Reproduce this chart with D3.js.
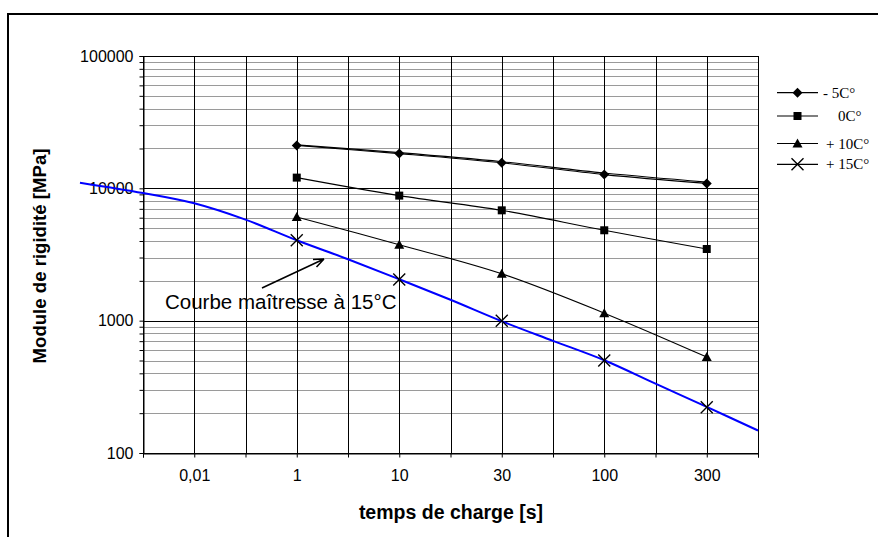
<!DOCTYPE html>
<html>
<head>
<meta charset="utf-8">
<script src="https://cdn.jsdelivr.net/npm/d3@7/dist/d3.min.js"></script>
<style>
  body { margin: 0; background: #fff; }
  svg { display: block; }
  text { font-family: Arial, "Liberation Sans", sans-serif; fill: #000; }
</style>
</head>
<body>
<svg id="chart" width="878" height="537"></svg>
<script>
// Loading-time categories (s) and stiffness modulus values (MPa)
const categories = ["0,01", "1", "10", "30", "100", "300"];
const yTickValues = [100, 1000, 10000, 100000];
const seriesCats = ["1", "10", "30", "100", "300"];
const minus5 = [21100, 18300, 15600, 12700, 10900];
const minus5Fit = [21300, 18600, 15900, 13050, 11150];
const zero = [12050, 8810, 6820, 4820, 3480];
const plus10 = [6070, 3750, 2260, 1140, 531];
const plus15 = [4050, 2050, 1000, 501, 222];
// Master curve at 15°C, positions given in category units
const masterPos = [-1.115, -0.5, 0, 0.5, 1, 1.5, 2, 2.5, 3, 3.5, 4, 4.5, 5, 5.5];
const masterVal = [11040, 9220, 7710, 5800, 4050, 2910, 2054, 1438, 990, 704, 502, 334, 223, 148];
const legendLabels = ["- 5C°", "0C°", "+ 10C°", "+ 15C°"];
const legendMarkers = ["diamond", "square", "triangle", "cross"];

const svg = d3.select("#chart");
const plot = { left: 143, right: 758, top: 56, bottom: 453 };

const x = d3.scaleLinear().domain([-0.5, categories.length - 0.5]).range([plot.left, plot.right]);
const y = d3.scaleLog().domain([100, 100000]).range([plot.bottom, plot.top]);
const catX = c => x(categories.indexOf(c));

// outer frame
svg.append("path")
  .attr("d", `M8,537 L8,14 L878,14`)
  .attr("fill", "none").attr("stroke", "#000").attr("stroke-width", 2);

// horizontal grid: decades black, intermediate values grey
const hVals = [];
[100, 1000, 10000].forEach(d => { for (let m = 1; m <= 9; m++) hVals.push(m * d); });
const isDecade = v => yTickValues.includes(v);
const grid = svg.append("g");
grid.selectAll("line.h").data(hVals.filter(v => v > 100)).join("line")
  .attr("x1", plot.left).attr("x2", plot.right)
  .attr("y1", v => Math.round(y(v)) + 0.5).attr("y2", v => Math.round(y(v)) + 0.5)
  .attr("stroke", v => isDecade(v) ? "#000" : "#9a9a9a")
  .attr("stroke-width", 1);

// vertical grid every half category
const vPos = d3.range(0, categories.length * 2 - 1).map(i => -0.5 + 0.5 * (i + 1));
grid.selectAll("line.v").data(vPos).join("line")
  .attr("y1", plot.top).attr("y2", plot.bottom)
  .attr("x1", p => Math.round(x(p)) + 0.5).attr("x2", p => Math.round(x(p)) + 0.5)
  .attr("stroke", "#000").attr("stroke-width", 1);

// plot border
svg.append("rect")
  .attr("x", plot.left + 0.5).attr("y", plot.top + 0.5)
  .attr("width", plot.right - plot.left).attr("height", plot.bottom - plot.top)
  .attr("fill", "none").attr("stroke", "#000").attr("stroke-width", 1);

// y axis (log) with ticks at every grid value
const yAxis = d3.axisLeft(y).tickValues(hVals.concat([100000])).tickSize(4)
  .tickFormat(v => isDecade(v) ? String(v) : "");
svg.append("g").attr("transform", `translate(${plot.left + 0.5},0)`).call(yAxis)
  .call(g => g.select(".domain").attr("stroke", "#000"))
  .call(g => g.selectAll("text").attr("font-size", 16).attr("font-family", "Arial, 'Liberation Sans', sans-serif").attr("dx", -3));

// x axis: ticks every half category, labels on categories
const xTicks = [-0.5].concat(vPos, [categories.length - 0.5]);
const xAxis = d3.axisBottom(x).tickValues(xTicks).tickSize(4)
  .tickFormat(p => Number.isInteger(p) ? categories[p] : "");
svg.append("g").attr("transform", `translate(0,${plot.bottom + 0.5})`).call(xAxis)
  .call(g => g.select(".domain").attr("stroke", "#000"))
  .call(g => g.selectAll("text").attr("font-size", 16).attr("font-family", "Arial, 'Liberation Sans', sans-serif").attr("dy", "1.25em"));

// axis titles
svg.append("text").attr("x", 451).attr("y", 519).attr("text-anchor", "middle")
  .attr("font-size", 19.5).attr("font-weight", "bold").text("temps de charge [s]");
svg.append("text").attr("transform", "translate(46,256) rotate(-90)").attr("text-anchor", "middle")
  .attr("font-size", 18.6).attr("font-weight", "bold").text("Module de rigidité [MPa]");

// curves
const smooth = d3.line().curve(d3.curveCatmullRom.alpha(0.5));
const seriesPts = vals => vals.map((v, i) => [catX(seriesCats[i]), y(v)]);

svg.append("path").attr("d", smooth(masterPos.map((p, i) => [x(p), y(masterVal[i])])))
  .attr("fill", "none").attr("stroke", "#0000ff").attr("stroke-width", 2);

[minus5, minus5Fit, zero, plus10].forEach(vals => {
  svg.append("path").attr("d", smooth(seriesPts(vals)))
    .attr("fill", "none").attr("stroke", "#000").attr("stroke-width", 1.1);
});

// markers
function marker(g, type, cx, cy) {
  if (type === "diamond") {
    g.append("path").attr("d", `M${cx},${cy - 5}L${cx + 5},${cy}L${cx},${cy + 5}L${cx - 5},${cy}Z`).attr("fill", "#000");
  } else if (type === "square") {
    g.append("rect").attr("x", cx - 4).attr("y", cy - 4).attr("width", 8).attr("height", 8).attr("fill", "#000");
  } else if (type === "triangle") {
    g.append("path").attr("d", `M${cx},${cy - 5}L${cx + 5},${cy + 4}L${cx - 5},${cy + 4}Z`).attr("fill", "#000");
  } else {
    g.append("path").attr("d", `M${cx - 6},${cy - 6}L${cx + 6},${cy + 6}M${cx + 6},${cy - 6}L${cx - 6},${cy + 6}`)
      .attr("stroke", "#000").attr("stroke-width", 1.4).attr("fill", "none");
  }
}
const mk = svg.append("g");
[minus5, zero, plus10, plus15].forEach((vals, k) => {
  seriesPts(vals).forEach(([px, py]) => marker(mk, legendMarkers[k], px, py));
});

// annotation
svg.append("text").attr("x", 165).attr("y", 309).attr("font-size", 20.5).text("Courbe maîtresse à 15°C");
svg.append("path").attr("d", "M262,288 L324,259 M324,259 L313,259.5 M324,259 L316.5,267")
  .attr("fill", "none").attr("stroke", "#000").attr("stroke-width", 1.6);

// legend
const legRows = [92.7, 116, 143.5, 164.3];
const legTextX = [823, 838, 826, 826];
const lg = svg.append("g");
legendLabels.forEach((lab, k) => {
  const ly = legRows[k];
  lg.append("line").attr("x1", 777).attr("x2", 818).attr("y1", ly).attr("y2", ly).attr("stroke", "#000").attr("stroke-width", 1.2);
  marker(lg, legendMarkers[k], 797.5, ly);
  lg.append("text").attr("x", legTextX[k]).attr("y", ly + 5)
    .style("font-family", "'Liberation Serif', 'Times New Roman', serif")
    .attr("font-size", 15).text(lab);
});
</script>
</body>
</html>
